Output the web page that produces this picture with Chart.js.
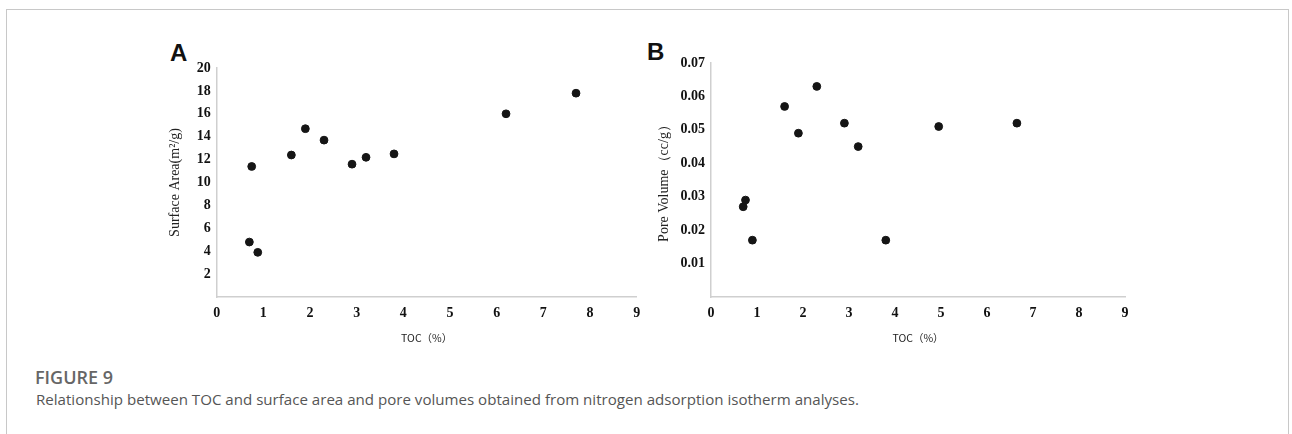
<!DOCTYPE html>
<html>
<head>
<meta charset="utf-8">
<script src="https://cdn.jsdelivr.net/npm/chart.js@4/dist/chart.umd.min.js"></script>
<style>
  body { margin: 0; background: #fff; width: 1292px; height: 434px; overflow: hidden; position: relative; }
  #frame { position: absolute; left: 6px; top: 9px; width: 1283px; height: 500px; border: 1.5px solid #c8c8c8; box-sizing: border-box; }
  .panel { position: absolute; top: 40px; width: 500px; height: 310px; }
  .tag { position: absolute; font-family: "Liberation Sans", Arial, sans-serif; font-weight: bold; font-size: 24px; line-height: 24px; color: #111; }
  #figno { position: absolute; left: 35px; top: 365px; font-family: "Open Sans", sans-serif; font-weight: 600; font-size: 18px; color: #666; }
  #caption { position: absolute; left: 36px; top: 389px; font-family: "Open Sans", sans-serif; font-size: 15.1px; color: #555; }
</style>
</head>
<body>
<div id="frame"></div>
<div class="tag" style="left:170px; top:41px;">A</div>
<div class="tag" style="left:647px; top:40px;">B</div>
<div class="panel" style="left:150px;"><canvas id="chartA"></canvas></div>
<div class="panel" style="left:640px;"><canvas id="chartB"></canvas></div>
<div id="figno">FIGURE 9</div>
<div id="caption">Relationship between TOC and surface area and pore volumes obtained from nitrogen adsorption isotherm analyses.</div>
<script>
// TOC (%) of each sample
var tocA = [0.7, 0.88, 0.75, 1.6, 1.9, 2.3, 2.9, 3.2, 3.8, 6.2, 7.7];
var surfaceArea = [4.8, 3.9, 11.4, 12.4, 14.7, 13.7, 11.6, 12.2, 12.5, 16.0, 17.8];

var tocB = [0.7, 0.75, 0.9, 1.6, 1.9, 2.3, 2.9, 3.2, 3.8, 4.95, 6.65];
var poreVolume = [0.027, 0.029, 0.017, 0.057, 0.049, 0.063, 0.052, 0.045, 0.017, 0.051, 0.052];

var xTicks = [0, 1, 2, 3, 4, 5, 6, 7, 8, 9];

var serif = "'Liberation Serif', 'Times New Roman', serif";
var axisColor = "#cfcfcf";

function toPoints(xs, ys){
    var pts = [];
    for (var i = 0; i < xs.length; i++){
        pts.push({x: xs[i], y: ys[i]});
    }
    return pts;
}

function makeChart(id, xs, ys, opt){
    var ctx = document.getElementById(id);
    return new Chart(ctx, {
        type: 'scatter',
        data: {
            datasets: [{
                data: toPoints(xs, ys),
                backgroundColor: "#151515",
                borderColor: "#151515",
                pointRadius: 3.9,
                pointHoverRadius: 3.9
            }]
        },
        options: {
            responsive: true,
            maintainAspectRatio: false,
            animation: false,
            layout: {padding: {top: opt.padTop, right: opt.padRight, left: 0, bottom: 0}},
            plugins: {legend: {display: false}, tooltip: {enabled: false}},
            scales: {
                x: {
                    type: 'linear',
                    min: 0,
                    max: 9,
                    afterBuildTicks: function(axis){
                        axis.ticks = xTicks.map(function(v){ return {value: v}; });
                    },
                    afterFit: function(axis){ axis.height = 53; },
                    grid: {display: false, drawTicks: false},
                    border: {color: axisColor, width: 1.5},
                    ticks: {
                        padding: 8,
                        color: "#111",
                        font: {family: serif, size: 14, weight: 'bold'}
                    },
                    title: {
                        display: true,
                        text: "TOC（%）",
                        color: "#222",
                        padding: {top: 0, bottom: 6},
                        font: {family: "'Noto Sans CJK SC', serif", size: 10.5}
                    }
                },
                y: {
                    type: 'linear',
                    min: 0,
                    max: opt.yMax,
                    afterBuildTicks: function(axis){
                        axis.ticks = opt.yTicks.map(function(v){ return {value: v}; });
                    },
                    afterFit: function(axis){ axis.width = opt.yWidth; },
                    grid: {display: false, drawTicks: false},
                    border: {color: axisColor, width: 1.5},
                    ticks: {
                        padding: 6,
                        color: "#111",
                        font: {family: serif, size: 14, weight: 'bold'},
                        callback: opt.yFormat
                    },
                    title: {
                        display: true,
                        text: opt.yTitle,
                        color: "#222",
                        padding: {top: opt.titlePad, bottom: 0},
                        font: {family: serif, size: 14}
                    }
                }
            }
        }
    });
}

makeChart("chartA", tocA, surfaceArea, {
    yMax: 20,
    yTicks: [2, 4, 6, 8, 10, 12, 14, 16, 18, 20],
    yFormat: function(v){ return String(v); },
    yTitle: "Surface Area(m²/g)",
    yWidth: 66.7,
    titlePad: 17,
    padTop: 28,
    padRight: 13.3
});

makeChart("chartB", tocB, poreVolume, {
    yMax: 0.07,
    yTicks: [0.01, 0.02, 0.03, 0.04, 0.05, 0.06, 0.07],
    yFormat: function(v){ return v.toFixed(2); },
    yTitle: "Pore Volume（cc/g）",
    yWidth: 71,
    titlePad: 16,
    padTop: 23,
    padRight: 15
});
</script>
</body>
</html>
